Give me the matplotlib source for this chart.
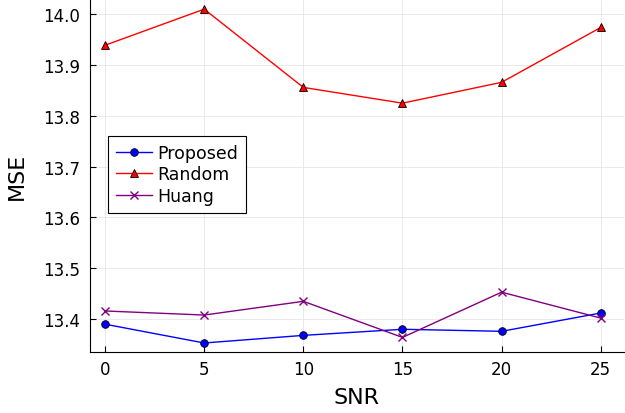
import matplotlib
matplotlib.use("Agg")
import matplotlib.pyplot as plt

snr = [0, 5, 10, 15, 20, 25]
proposed = [13.390, 13.353, 13.368, 13.380, 13.376, 13.412]
random_sel = [13.939, 14.010, 13.856, 13.825, 13.866, 13.974]
huang = [13.416, 13.408, 13.435, 13.364, 13.453, 13.402]

fig = plt.figure(figsize=(6.25, 4.14), dpi=100)
ax = fig.add_axes([0.144, 0.147, 0.854, 0.853])

ax.plot(snr, proposed, color="blue", lw=1, marker="o", ms=5.5,
        markeredgecolor="black", markeredgewidth=0.6, label="Proposed")
ax.plot(snr, random_sel, color="red", lw=1, marker="^", ms=6,
        markeredgecolor="black", markeredgewidth=0.6, label="Random")
ax.plot(snr, huang, color="purple", lw=1, marker="x", ms=6,
        markeredgewidth=1, label="Huang")

ax.set_xlim(-0.76, 26.16)
ax.set_ylim(13.335, 14.030)
ax.set_xticks(snr)
ax.set_yticks([13.4, 13.5, 13.6, 13.7, 13.8, 13.9, 14.0])
ax.set_yticklabels(["13.4", "13.5", "13.6", "13.7", "13.8", "13.9", "14.0"])
ax.grid(True, color="#e6e6e6", lw=0.6)
ax.spines["top"].set_visible(False)
ax.spines["right"].set_visible(False)
ax.tick_params(direction="in", labelsize=12, length=4)
ax.tick_params(axis="x", pad=6)
ax.tick_params(axis="y", pad=7)
ax.set_xlabel("SNR", fontsize=16, labelpad=6)
ax.set_ylabel("MSE", fontsize=16, labelpad=12)

leg = ax.legend(loc="upper left", bbox_to_anchor=(0.034, 0.612), fontsize=12.5,
                fancybox=False, edgecolor="black", framealpha=1,
                handlelength=2.1, handletextpad=0.3, borderpad=0.45,
                labelspacing=0.2, borderaxespad=0)
leg.get_frame().set_linewidth(0.8)

fig.savefig("out.png", dpi=100)
